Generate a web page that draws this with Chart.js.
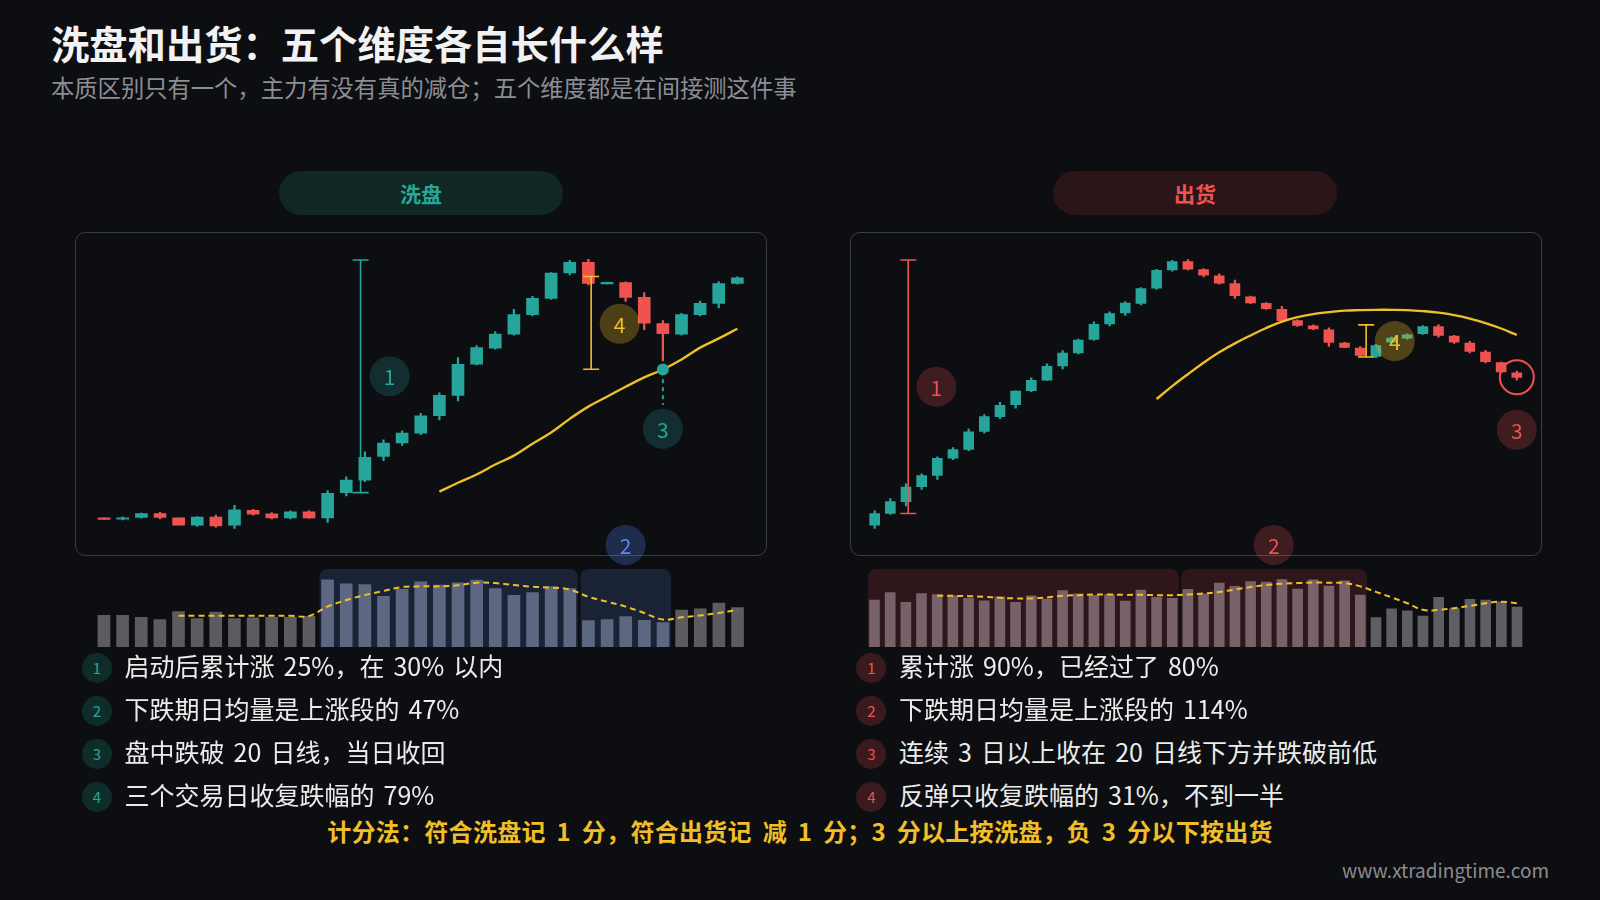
<!DOCTYPE html>
<html>
<head>
<meta charset="utf-8">
<script src="https://cdn.jsdelivr.net/npm/chart.js@4.4.1/dist/chart.umd.min.js"></script>
<style>
body{margin:0;background:#0d0e12;}
#stage{position:relative;width:1600px;height:900px;overflow:hidden;font-family:"Noto Sans CJK SC","Noto Sans",sans-serif;}
.abs{position:absolute;}
.title{left:51px;top:23px;font-size:38.3px;line-height:40px;font-weight:700;color:#f2f2f2;white-space:nowrap;}
.sub{left:51px;top:74px;font-size:23.3px;line-height:26px;color:#8b8e95;white-space:nowrap;}
.pill{top:171px;width:284px;height:44px;border-radius:22px;text-align:center;line-height:44px;font-size:21px;font-weight:600;}
.panel{top:232px;height:324px;width:692px;box-sizing:border-box;border:1.5px solid #3a3c44;border-radius:10px;}
.box{position:absolute;}
.item{font-size:25px;line-height:30px;color:#ececec;white-space:nowrap;word-spacing:3.5px;}
.num{width:30px;height:30px;border-radius:50%;text-align:center;line-height:30px;font-size:15px;}
.score{left:0;width:1600px;top:815px;text-align:center;font-size:24px;line-height:32px;font-weight:700;color:#f0be28;white-space:nowrap;word-spacing:5px;letter-spacing:0.3px;}
.mark{right:51px;top:858px;font-size:19px;line-height:24px;color:#8c8c8c;}
</style>
</head>
<body>
<div id="stage">
  <div class="abs title">洗盘和出货：五个维度各自长什么样</div>
  <div class="abs sub">本质区别只有一个，主力有没有真的减仓；五个维度都是在间接测这件事</div>

  <div class="abs pill" style="left:279px;background:#102723;color:#26a69a;">洗盘</div>
  <div class="abs pill" style="left:1053px;background:#2c1518;color:#ef5350;">出货</div>

  <div class="abs panel" style="left:74.5px;"></div>
  <div class="abs panel" style="left:849.5px;"></div>

  <div class="box" style="left:74.5px;top:556px;width:691.5px;height:92px;"><canvas id="volLeft"></canvas></div>
  <div class="box" style="left:849.5px;top:556px;width:691.5px;height:92px;"><canvas id="volRight"></canvas></div>
  <div class="box" style="left:74.5px;top:228px;width:691.5px;height:344px;"><canvas id="kLeft"></canvas></div>
  <div class="box" style="left:849.5px;top:228px;width:691.5px;height:344px;"><canvas id="kRight"></canvas></div>

  <div id="listLeft"></div>
  <div id="listRight"></div>

  <div class="abs score">计分法：符合洗盘记 1 分，符合出货记 减 1 分；3 分以上按洗盘，负 3 分以下按出货</div>
  <div class="abs mark">www.xtradingtime.com</div>
</div>

<script>
// 洗盘 (left) daily candles, price index
const leftOpen  = [41.3,40.0,41.7,45.7,41.3,34,42,34,49,45.3,41.3,47.3,41.3,66.7,79.3,103.3,116.7,126.7,144.3,164.7,196,212.3,226.3,246,262.3,288,298.7,277.0,278.3,263.3,237,226.3,246,257.3,277.3];
const leftClose = [39.7,41.3,45.7,41.7,34,42,33.3,49.3,45,41.3,47.3,41.3,66,79.3,102.3,116.7,126.7,144,164.7,196,212.7,226.3,246,262.3,287.7,298.7,277.3,278.5,263.3,237.3,226.7,246,257.3,277.3,283];
const leftHigh  = [41.3,42.3,46,47,41.3,42.7,44,54,50,46.7,48.3,48.7,68.7,82.7,107.7,120,129,146.7,167.3,202.7,214.7,229,251.3,264.3,288.3,300.7,301.7,278.5,279,268.3,240,247.3,259.7,279.3,284];
const leftLow   = [39.7,39.3,41,40.3,34,32.7,32,30.7,44,40.3,40.3,40.7,36.7,63.3,77.7,99,114.3,125,140,159,195.3,211.3,225.3,244.7,261.3,286,276,277,259.3,230.7,199.3,225.3,244.7,252.7,276.7];
const leftMA20  = [null,null,null,null,null,null,null,null,null,null,null,null,null,null,null,null,null,null,
  67.7,76.7,85,95,104,116,127.3,141,153.3,163.3,173.3,182.7,190.7,200.7,212.7,222,231.7];
const leftVol   = [32.3,32.3,30.3,28,36.3,29,35.7,29,29.7,30.3,30.3,31.3,68.7,64.7,63.7,51.7,59,66.7,63.3,65.7,68.3,59.7,52.7,55.7,61.7,59.7,27,28,31,27.3,25,37.7,39,45,40.3];
const leftVolMA = [null,null,null,null,32,32,32,32,32,32,32,31.7,41.3,48,53,57.3,61.3,62,62,63,65.7,65.3,63.3,61.7,60.7,58.7,51.3,46.3,41.3,34.7,28,30.3,32.3,34.7,38];
const leftZones = [[12,25],[26,30]];

// 出货 (right) daily candles
const rightOpen  = [34,45.7,57.7,72.7,84,101.3,110.3,128.3,143.3,155.3,169.3,180,194.3,207.3,221,236.7,247.7,257.3,272.7,291,299.3,291.3,285,277.3,264,257.3,251.3,240,234.7,230.7,217.3,212.3,204,218.3,222.3,226.7,234,224.3,217.3,208.3,197.7,187.3];
const rightClose = [45.7,57.7,72.3,84,101.3,110,128,143.3,154.7,169,179.7,194,207.3,220.3,236.3,247,257.7,272.3,290.7,299.3,291.7,285.7,277.7,265,257.7,252,240,235,231.7,218,213,205,214.7,222.3,225.7,234,225,218.3,209,198.7,188.3,182.7];
const rightHigh  = [48.3,60.7,75.7,85.7,102.7,112,130.7,145.3,157.7,169.3,182.3,196.3,209.7,221.3,238.7,248.7,259,273.3,291.7,300.7,301.3,292.3,287,280.7,264.7,258,254.3,240.7,235.7,232.7,218,213.7,216,223.5,226.7,235,236,225,219,210,198.3,189];
const rightLow   = [30.7,44.7,53.3,70,80,100,109,126.7,141.3,151.7,168.3,179.7,191.3,206.3,220,234.7,245.3,255.7,271.3,289.7,291,284,276.7,262.3,257,251.3,238.7,234,230.7,214,212.7,204,202.7,217.5,221.3,226,223.3,217,207.3,197.3,187.3,180];
const rightMA20  = [null,null,null,null,null,null,null,null,null,null,null,null,null,null,null,null,null,null,
  161,174,186,197.5,208,217,225,232.5,239,243.5,246.5,248.5,250,250.5,250.8,250.8,250.5,249.5,248,245.5,242,237.5,232,225.5];
const rightVol   = [48,55.7,45.7,54.7,53.7,52.3,49.7,47.3,51.3,45.7,52.3,49,57.7,54.3,52.7,53.7,47,58.3,50.7,49.7,59,54.3,65.3,62,67,66.3,69,59.3,68.7,62.3,67.7,53,30,39,37,31.7,50.7,39.3,48.7,48,46.3,40.7];
const rightVolMA = [null,null,null,null,52.3,52.3,52,51.3,50.3,49.7,49.7,50.7,52.3,53,53.7,53.7,53.3,53.3,53,53,53.7,54.7,56.3,58.7,61.3,63.3,64.7,65.3,66,65.7,65.3,62,56.3,50.7,44.7,38,38,39.7,42,44.7,46.3,44.7];
const rightZones = [[0,19],[20,31]];

const leftNotes  = ['启动后累计涨 25%，在 30% 以内','下跌期日均量是上涨段的 47%','盘中跌破 20 日线，当日收回','三个交易日收复跌幅的 79%'];
const rightNotes = ['累计涨 90%，已经过了 80%','下跌期日均量是上涨段的 114%','连续 3 日以上收在 20 日线下方并跌破前低','反弹只收复跌幅的 31%，不到一半'];

const UP='#26a69a', DOWN='#ef5350', GOLD='#f0be28', FONT='"Noto Sans CJK SC","Noto Sans",sans-serif';

// annotation marks, placed in data space (candle index, price)
const leftMarks = [
  {type:'ibar', x:13.77, y0:66.7, y1:301, color:UP},
  {type:'badge', x:15.33, y:184, text:'1', fill:'rgba(38,166,154,0.22)', color:UP},
  {type:'ibar', x:26.15, y0:191, y1:284.3, color:GOLD},
  {type:'badge', x:27.68, y:236.7, text:'4', fill:'rgba(240,190,40,0.28)', color:GOLD},
  {type:'dash', x:30, y0:181, y1:155, color:UP},
  {type:'dot', x:30, y:190.7, color:UP},
  {type:'badge', x:30, y:131, text:'3', fill:'rgba(38,166,154,0.22)', color:UP},
  {type:'badge', x:28.0, y:14, text:'2', fill:'rgba(76,122,230,0.28)', color:'#5b8def'}
];
const rightMarks = [
  {type:'ibar', x:2.14, y0:45.7, y1:301, color:DOWN},
  {type:'badge', x:3.94, y:173.3, text:'1', fill:'rgba(239,83,80,0.22)', color:DOWN},
  {type:'ibar', x:31.38, y0:203.3, y1:235.7, color:GOLD},
  {type:'badge', x:33.21, y:219.3, text:'4', fill:'rgba(240,190,40,0.3)', color:GOLD},
  {type:'ring', x:41, y:183, color:DOWN},
  {type:'badge', x:41, y:130, text:'3', fill:'rgba(239,83,80,0.22)', color:DOWN},
  {type:'badge', x:25.48, y:14, text:'2', fill:'rgba(239,83,80,0.22)', color:DOWN}
];

const marksPlugin=(items)=>({
  id:'marks',
  afterDatasetsDraw(chart){
    const {ctx, scales:{x, y}} = chart;
    items.forEach(m=>{
      ctx.save();
      const px = x.getPixelForValue(m.x);
      if(m.type==='ibar'){
        const a = y.getPixelForValue(m.y0), b = y.getPixelForValue(m.y1);
        ctx.strokeStyle=m.color; ctx.lineWidth=1.6;
        ctx.beginPath();
        ctx.moveTo(px,a); ctx.lineTo(px,b);
        ctx.moveTo(px-8,a); ctx.lineTo(px+8,a);
        ctx.moveTo(px-8,b); ctx.lineTo(px+8,b);
        ctx.stroke();
      } else if(m.type==='badge'){
        const py = y.getPixelForValue(m.y);
        ctx.fillStyle=m.fill;
        ctx.beginPath(); ctx.arc(px,py,20,0,Math.PI*2); ctx.fill();
        ctx.fillStyle=m.color; ctx.font='21px '+FONT;
        ctx.textAlign='center'; ctx.textBaseline='middle';
        ctx.fillText(m.text,px,py+1);
      } else if(m.type==='dot'){
        const py = y.getPixelForValue(m.y);
        ctx.fillStyle=m.color;
        ctx.beginPath(); ctx.arc(px,py,6,0,Math.PI*2); ctx.fill();
      } else if(m.type==='ring'){
        const py = y.getPixelForValue(m.y);
        ctx.strokeStyle=m.color; ctx.lineWidth=2;
        ctx.beginPath(); ctx.arc(px,py,17,0,Math.PI*2); ctx.stroke();
      } else if(m.type==='dash'){
        ctx.strokeStyle=m.color; ctx.lineWidth=2; ctx.setLineDash([4,4]);
        ctx.beginPath();
        ctx.moveTo(px,y.getPixelForValue(m.y0)); ctx.lineTo(px,y.getPixelForValue(m.y1));
        ctx.stroke();
      }
      ctx.restore();
    });
  }
});

const zonesPlugin=(zones,fill,pad)=>({
  id:'zones',
  beforeDatasetsDraw(chart){
    const {ctx, scales:{x, y}} = chart;
    ctx.save();
    ctx.fillStyle=fill;
    zones.forEach(([a,b])=>{
      const l = x.getPixelForValue(a-pad), r = x.getPixelForValue(b+pad);
      const t = y.getPixelForValue(79.7), bt = y.getPixelForValue(0);
      ctx.beginPath(); ctx.roundRect(l,t,r-l,bt-t,[8,8,0,0]); ctx.fill();
    });
    ctx.restore();
  }
});

const baseOptions=(xmax,ymin,ymax)=>({
  responsive:true, maintainAspectRatio:false, animation:false,
  layout:{padding:0},
  plugins:{legend:{display:false}, tooltip:{enabled:false}},
  scales:{
    x:{type:'linear', min:-1.5, max:xmax, offset:false, display:false},
    y:{min:ymin, max:ymax, display:false}
  }
});

const drawCandles=(id,open,close,high,low,ma,marks,xmax,bodyW)=>{
  const idx = open.map((_,i)=>i);
  const colors = open.map((o,i)=> close[i]>=o ? UP : DOWN);
  new Chart(document.getElementById(id),{
    type:'bar',
    data:{
      labels:idx,
      datasets:[
        {type:'line', data:ma, borderColor:GOLD, borderWidth:2.4, pointRadius:0, tension:0.4, order:0},
        {data:open.map((o,i)=>[o,close[i]]), backgroundColor:colors, barThickness:bodyW, grouped:false, order:1},
        {data:low.map((l,i)=>[l,high[i]]), backgroundColor:colors, barThickness:1.6, grouped:false, order:2}
      ]
    },
    options:baseOptions(xmax,-12,332),
    plugins:[marksPlugin(marks)]
  });
};

const drawVolume=(id,vol,volMA,zones,zoneFill,inColor,outColor,xmax,barW)=>{
  const idx = vol.map((_,i)=>i);
  const colors = idx.map(i=> zones.some(([a,b])=>i>=a&&i<=b) ? inColor : outColor);
  new Chart(document.getElementById(id),{
    type:'bar',
    data:{
      labels:idx,
      datasets:[
        {type:'line', data:volMA, borderColor:GOLD, borderWidth:2, borderDash:[6,4], pointRadius:0, tension:0.4, order:0},
        {data:vol, backgroundColor:colors, barThickness:barW, grouped:false, order:1}
      ]
    },
    options:baseOptions(xmax,0,92),
    plugins:[zonesPlugin(zones,zoneFill,0.43)]
  });
};

drawVolume('volLeft',leftVol,leftVolMA,leftZones,'#1a2236','#5d6782','#5c5c60',35.5,12);
drawVolume('volRight',rightVol,rightVolMA,rightZones,'#2e161a','#78626a','#5e5f64',42.5,10);
drawCandles('kLeft',leftOpen,leftClose,leftHigh,leftLow,leftMA20,leftMarks,35.5,12);
drawCandles('kRight',rightOpen,rightClose,rightHigh,rightLow,rightMA20,rightMarks,42.5,10);

const buildList=(id,notes,cx,tx,fill,color)=>{
  const host=document.getElementById(id);
  notes.forEach((t,i)=>{
    const cy = 668.4 + i*42.8;
    const n=document.createElement('div');
    n.className='abs num';
    n.style.cssText=`left:${cx-15}px;top:${cy-15}px;background:${fill};color:${color};`;
    n.textContent=String(i+1);
    const s=document.createElement('div');
    s.className='abs item';
    s.style.cssText=`left:${tx}px;top:${cy-18}px;`;
    s.textContent=t;
    host.appendChild(n); host.appendChild(s);
  });
};
buildList('listLeft',leftNotes,97,124.5,'#0f2d28',UP);
buildList('listRight',rightNotes,871.4,899,'#3a1a1c',DOWN);
</script>
</body>
</html>
